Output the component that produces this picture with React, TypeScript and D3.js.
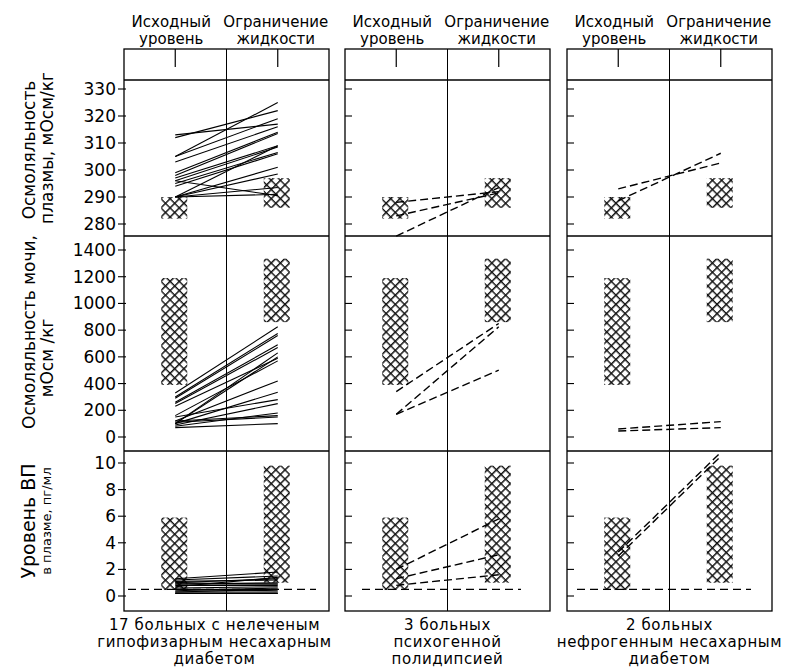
import React from "react";
import * as d3 from "d3";

// ---------- data ----------
const phases = ["Исходный уровень", "Ограничение жидкости"];
const phaseHeader = [
  ["Исходный", "уровень"],
  ["Ограничение", "жидкости"],
];
const groups = ["hypo", "psycho", "nephro"];
const groupLabels = [
  ["17 больных с нелеченым", "гипофизарным несахарным", "диабетом"],
  ["3 больных", "психогенной", "полидипсией"],
  ["2 больных", "нефрогенным несахарным", "диабетом"],
];

const plasmaTicks = [280, 290, 300, 310, 320, 330];
const urineTicks = [0, 200, 400, 600, 800, 1000, 1200, 1400];
const avpTicks = [0, 2, 4, 6, 8, 10];

// normal ranges [low, high] for baseline and fluid restriction
const plasmaNormal = [[282, 290], [286, 297]];
const urineNormal = [[390, 1190], [860, 1335]];
const avpNormal = [[0.45, 5.9], [1.0, 9.8]];
const avpDetectionLimit = 0.5;

// group 1: 17 patients (solid lines)
const plasmaHypoBase = [313, 312, 305, 305, 303, 299, 298, 297, 296, 295, 294, 290, 290, 290, 290, 290, 296];
const plasmaHypoRestr = [317, 322, 325, 319, 316, 314, 313.5, 309, 308.5, 306.5, 306, 309, 301, 298.5, 293.5, 291, 290.5];
const urineHypoBase = [330, 300, 290, 260, 250, 100, 100, 160, 120, 100, 150, 90, 80, 120, 70, 110, 230];
const urineHypoRestr = [825, 775, 760, 690, 670, 630, 600, 570, 420, 335, 280, 250, 180, 160, 100, 150, 590];
const avpHypoBase = [1.3, 1.2, 1.1, 1.0, 1.0, 0.9, 0.8, 0.7, 0.6, 0.5, 0.5, 0.4, 0.3, 0.3, 0.2, 0.2, 0.9];
const avpHypoRestr = [1.8, 1.5, 1.2, 1.3, 0.9, 1.0, 0.8, 1.4, 0.7, 0.5, 0.4, 0.6, 0.3, 0.5, 0.2, 0.2, 0.9];

// group 2: 3 patients (dashed)
const plasmaPsychoBase = [288, 283, 275.5];
const plasmaPsychoRestr = [292, 291.5, 293.5];
const urinePsychoBase = [340, 170, 170];
const urinePsychoRestr = [850, 825, 500];
const avpPsychoBase = [2.0, 1.3, 0.8];
const avpPsychoRestr = [5.8, 3.1, 1.6];

// group 3: 2 patients (dashed)
const plasmaNephroBase = [293, 288.6];
const plasmaNephroRestr = [302.6, 306.2];
const urineNephroBase = [60, 45];
const urineNephroRestr = [115, 70];
const avpNephroBase = [3.3, 3.0];
const avpNephroRestr = [10.8, 10.5];

// ---------- layout ----------
const W = 792;
const H = 669;
const panelLefts = [124, 345, 567];
const panelW = 205;
const frameTop = 49;
const headerBottom = 80;
const rowBounds = [80, 236, 451, 611];
const FONT = "'DejaVu Sans', sans-serif";
const detectionInset = [[4, 13], [17, 29], [10, 21]];
const headerShift = [-4, -2];

const plasmaY = d3.scaleLinear().domain([280, 330]).range([224, 89]);
const urineY = d3.scaleLinear().domain([0, 1400]).range([437, 250]);
const avpY = d3.scaleLinear().domain([0, 10]).range([596, 463]);

const pair = (a: number[], b: number[]) => a.map((v, i) => [v, b[i]]);

const rows = [
  {
    y: plasmaY,
    ticks: plasmaTicks,
    normal: plasmaNormal,
    data: [pair(plasmaHypoBase, plasmaHypoRestr), pair(plasmaPsychoBase, plasmaPsychoRestr), pair(plasmaNephroBase, plasmaNephroRestr)],
    title: [
      { text: "Осмоляльность", x: 35, cy: 150, size: 17 },
      { text: "плазмы, мОсм/кг", x: 53, cy: 148, size: 17 },
    ],
  },
  {
    y: urineY,
    ticks: urineTicks,
    normal: urineNormal,
    data: [pair(urineHypoBase, urineHypoRestr), pair(urinePsychoBase, urinePsychoRestr), pair(urineNephroBase, urineNephroRestr)],
    title: [
      { text: "Осмоляльность мочи,", x: 35, cy: 332, size: 17 },
      { text: "мОсм /кг", x: 53, cy: 358, size: 17 },
    ],
  },
  {
    y: avpY,
    ticks: avpTicks,
    normal: avpNormal,
    data: [pair(avpHypoBase, avpHypoRestr), pair(avpPsychoBase, avpPsychoRestr), pair(avpNephroBase, avpNephroRestr)],
    title: [
      { text: "Уровень ВП", x: 35, cy: 521, size: 19 },
      { text: "в плазме, пг/мл", x: 51, cy: 521, size: 13 },
    ],
  },
];

export default function App() {
  const line = d3.line<[number, number]>().x((d) => d[0]).y((d) => d[1]);
  return (
    <svg
      width={W}
      height={H}
      viewBox={`0 0 ${W} ${H}`}
      style={{ position: "absolute", left: 0, top: 0, background: "#fff" }}
      fontFamily={FONT}
    >
      <defs>
        <pattern id="hatch" patternUnits="userSpaceOnUse" width={6.5} height={6.5} patternTransform="rotate(45)">
          <path d="M0,0.75 H6.5 M0.75,0 V6.5" stroke="#111" strokeWidth={1.5} fill="none" />
        </pattern>
      </defs>
      <rect width={W} height={H} fill="#fff" />

      {groups.map((g, gi) => {
        const left = panelLefts[gi];
        const right = left + panelW;
        const x = d3.scalePoint<string>().domain(phases).range([left, right]).padding(0.5);
        const mid = left + panelW / 2;
        const dashed = gi > 0;
        return (
          <g key={g}>
            {/* frame */}
            <rect x={left} y={frameTop} width={panelW} height={rowBounds[3] - frameTop} fill="none" stroke="#000" strokeWidth={1.3} />
            <line x1={left} x2={right} y1={headerBottom} y2={headerBottom} stroke="#000" strokeWidth={1.3} />
            <line x1={left} x2={right} y1={rowBounds[1]} y2={rowBounds[1]} stroke="#000" strokeWidth={1.3} />
            <line x1={left} x2={right} y1={rowBounds[2]} y2={rowBounds[2]} stroke="#000" strokeWidth={1.3} />
            <line x1={mid} x2={mid} y1={frameTop} y2={rowBounds[3]} stroke="#000" strokeWidth={1} />

            {/* header */}
            {phases.map((p, pi) => (
              <g key={p}>
                <line x1={x(p)} x2={x(p)} y1={frameTop} y2={frameTop + 18} stroke="#000" strokeWidth={1.2} />
                <text x={(x(p) as number) + headerShift[pi]} y={27} textAnchor="middle" fontSize={15}>
                  {phaseHeader[pi][0]}
                </text>
                <text x={(x(p) as number) + headerShift[pi]} y={44} textAnchor="middle" fontSize={15}>
                  {phaseHeader[pi][1]}
                </text>
              </g>
            ))}

            {rows.map((r, ri) => (
              <g key={ri}>
                {/* ticks */}
                {r.ticks.map((t) => (
                  <g key={t}>
                    <line
                      x1={gi === 0 ? left - 6 : left}
                      x2={gi === 0 ? left + 2 : left + 7}
                      y1={r.y(t)}
                      y2={r.y(t)}
                      stroke="#000"
                      strokeWidth={1.1}
                    />
                    {gi === 0 && (
                      <text x={left - 8} y={r.y(t) + 6} textAnchor="end" fontSize={17}>
                        {t}
                      </text>
                    )}
                  </g>
                ))}
                {/* normal ranges */}
                {phases.map((p, pi) => (
                  <rect
                    key={p}
                    x={(x(p) as number) - 14}
                    y={r.y(r.normal[pi][1])}
                    width={26}
                    height={r.y(r.normal[pi][0]) - r.y(r.normal[pi][1])}
                    fill="url(#hatch)"
                  />
                ))}
                {/* detection limit */}
                {ri === 2 && (
                  <line
                    x1={left + detectionInset[gi][0]}
                    x2={right - detectionInset[gi][1]}
                    y1={r.y(avpDetectionLimit)}
                    y2={r.y(avpDetectionLimit)}
                    stroke="#000"
                    strokeWidth={1.2}
                    strokeDasharray="8,5"
                  />
                )}
                {/* patients */}
                {r.data[gi].map((d, di) => (
                  <path
                    key={di}
                    d={line([
                      [x(phases[0]) as number, r.y(d[0])],
                      [x(phases[1]) as number, r.y(d[1])],
                    ]) as string}
                    fill="none"
                    stroke="#000"
                    strokeWidth={dashed ? 1.4 : 1.1}
                    strokeDasharray={dashed ? "8,4" : undefined}
                  />
                ))}
              </g>
            ))}

            {/* group label */}
            {groupLabels[gi].map((t, li) => (
              <text key={li} x={mid - (gi === 0 ? 12 : 0)} y={630 + li * 17} textAnchor="middle" fontSize={15} letterSpacing={0.6}>
                {t}
              </text>
            ))}
          </g>
        );
      })}

      {/* y-axis titles */}
      {rows.map((r, ri) =>
        r.title.map((t, ti) => (
          <text
            key={`${ri}-${ti}`}
            transform={`translate(${t.x},${t.cy}) rotate(-90)`}
            textAnchor="middle"
            fontSize={t.size}
          >
            {t.text}
          </text>
        ))
      )}
    </svg>
  );
}
